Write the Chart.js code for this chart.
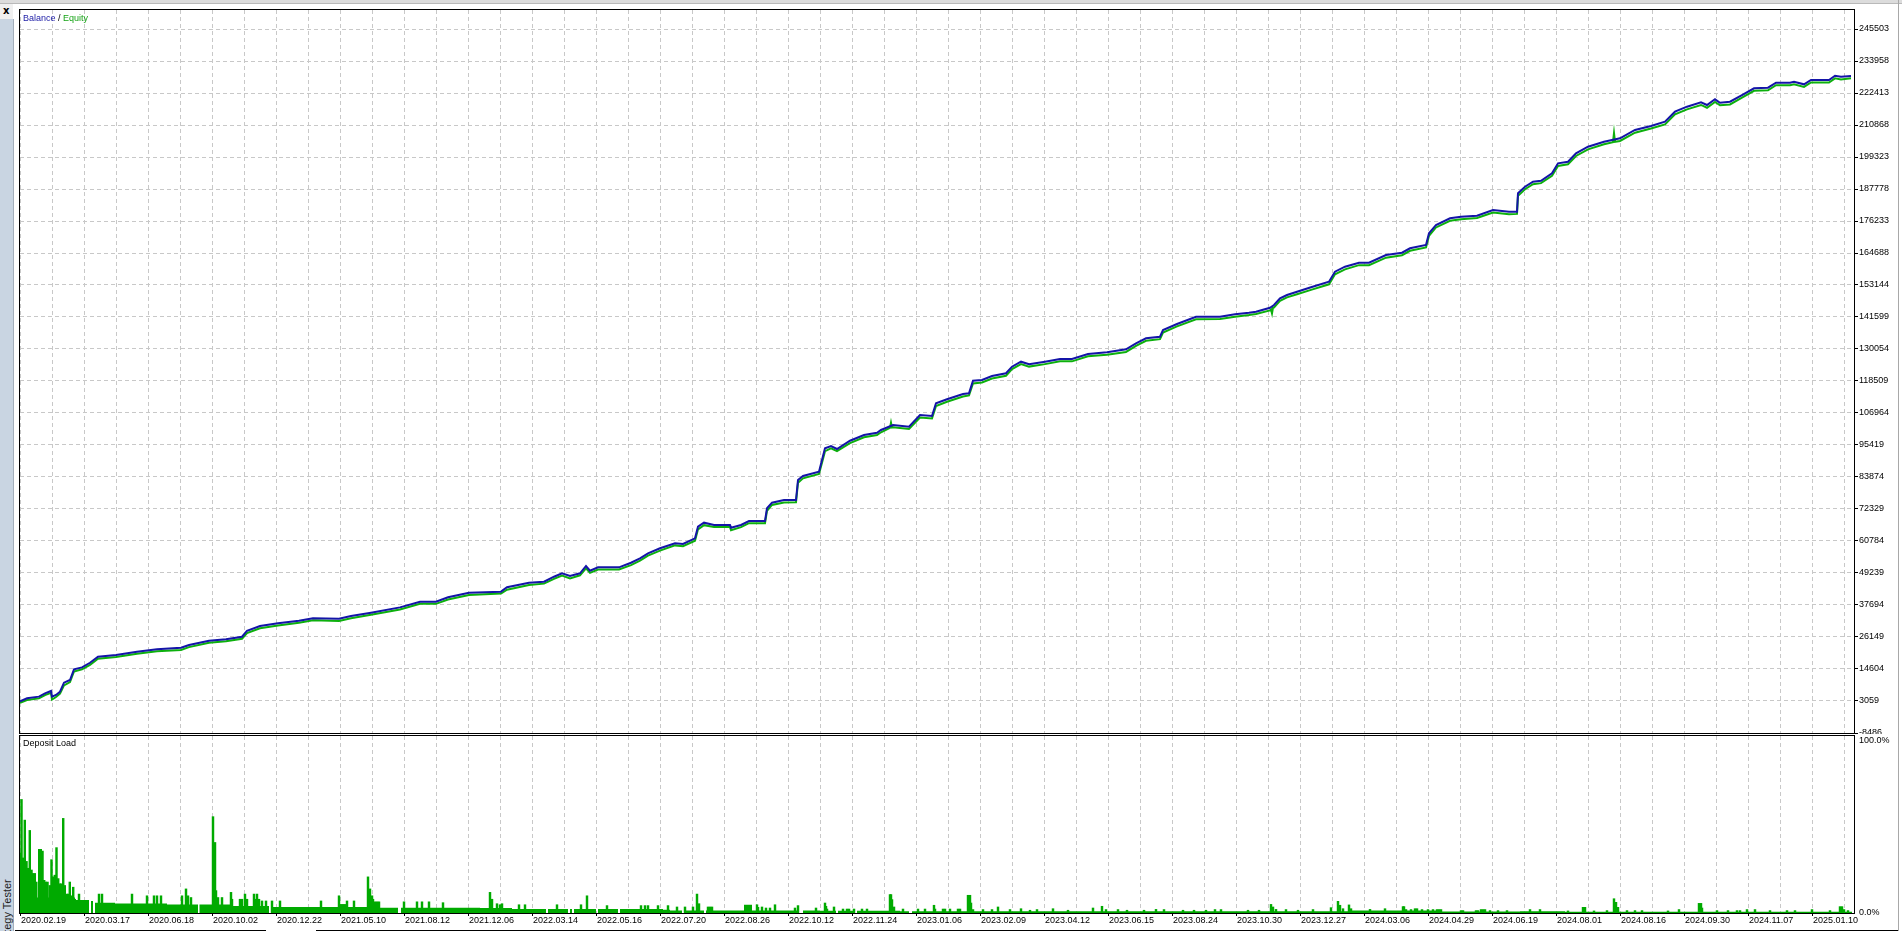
<!doctype html>
<html lang="en">
<head>
<meta charset="utf-8" />
<title>Balance / Equity</title>
<script src="https://cdn.jsdelivr.net/npm/chart.js"></script>
<style>
  html, body { margin: 0; padding: 0; background: #fff; overflow: hidden; }
  body { width: 1902px; height: 931px; position: relative; font-family: 'Liberation Sans', Arial, sans-serif; }
  .abs { position: absolute; }
  #topbar { left: 0; top: 0; width: 1902px; height: 3px; background: #dcdcdc; border-bottom: 1px solid #b9b9b9; }
  #corner { left: 0; top: 4px; width: 13px; height: 15px; background: #f0f0f0; }
  #close { left: 3px; top: 5px; font: bold 10px 'DejaVu Sans', sans-serif; color: #000; }
  #sidebar { left: 0; top: 19px; width: 13px; height: 912px; background: #c9d5e2; border-right: 1px solid #a3aebb; overflow: hidden; }
  #sideText { left: 1px; top: 953px; transform-origin: 0 0; transform: rotate(-90deg); font: 11px 'Liberation Sans', Arial, sans-serif; color: #1e1e1e; white-space: nowrap; line-height: 12px; }
  #rightLine { left: 1898px; top: 0; width: 1px; height: 931px; background: #a8a8a8; }
  #bottomLine1 { left: 15px; top: 930px; width: 251px; height: 1px; background: #000; }
  #bottomLine2 { left: 316px; top: 930px; width: 1582px; height: 1px; background: #000; }
  #mainChart { left: 0; top: 0; }
  #loadChart { left: 0; top: 734px; }
  .caption { font-size: 9px; line-height: 10px; white-space: nowrap; color: #000; }
</style>
</head>
<body>
  <div class="abs" id="topbar"></div>
  <div class="abs" id="corner"></div>
  <div class="abs" id="close">x</div>
  <div class="abs" id="sidebar"></div>
  <div class="abs" id="sideText">Strategy Tester</div>
  <div class="abs" id="rightLine"></div>
  <canvas class="abs" id="mainChart" width="1902" height="734"></canvas>
  <canvas class="abs" id="loadChart" width="1902" height="197"></canvas>
  <div class="abs" id="bottomLine1"></div>
  <div class="abs" id="bottomLine2"></div>
  <div class="abs caption" style="left:23px; top:13px;"><span style="color:#1c1ca6">Balance</span> / <span style="color:#16a316">Equity</span></div>
  <div class="abs caption" style="left:23px; top:738px;">Deposit Load</div>
<script>
// x positions are the tester's deal index, one unit per pixel column
const xMax = 1834;
const gridStep = 32;

const dateLabels = [
  '2020.02.19', '2020.03.17', '2020.06.18', '2020.10.02', '2020.12.22', '2021.05.10',
  '2021.08.12', '2021.12.06', '2022.03.14', '2022.05.16', '2022.07.20', '2022.08.26',
  '2022.10.12', '2022.11.24', '2023.01.06', '2023.02.09', '2023.04.12', '2023.06.15',
  '2023.08.24', '2023.10.30', '2023.12.27', '2024.03.06', '2024.04.29', '2024.06.19',
  '2024.08.01', '2024.08.16', '2024.09.30', '2024.11.07', '2025.01.10',
];

const balanceTicks = [
  -8486, 3059, 14604, 26149, 37694, 49239, 60784, 72329, 83874, 95419, 106964, 118509,
  130054, 141599, 153144, 164688, 176233, 187778, 199323, 210868, 222413, 233958, 245503,
];
const balanceMin = -8486;
const balanceMax = 252358;

const balanceX = [
  0, 7, 19, 25, 31, 32, 36, 40, 44, 50,
  54, 62, 70, 78, 96, 117, 137, 161, 169, 189,
  206, 222, 227, 240, 258, 279, 293, 319, 331, 351,
  380, 400, 416, 428, 449, 481, 487, 509, 524, 534,
  542, 550, 560, 566, 570, 578, 599, 611, 620, 628,
  640, 655, 663, 675, 678, 684, 694, 710, 711, 721,
  729, 745, 747, 752, 764, 776, 778, 783, 799, 802,
  805, 811, 817, 830, 844, 857, 861, 873, 889, 900,
  912, 916, 927, 943, 949, 953, 962, 972, 986, 992,
  1001, 1009, 1025, 1040, 1052, 1068, 1087, 1106, 1116, 1126,
  1140, 1143, 1157, 1176, 1200, 1215, 1229, 1236, 1250, 1254,
  1260, 1267, 1277, 1291, 1309, 1315, 1325, 1339, 1349, 1366,
  1382, 1390, 1406, 1409, 1416, 1430, 1441, 1457, 1473, 1489,
  1497, 1498, 1505, 1513, 1521, 1532, 1538, 1548, 1556, 1568,
  1584, 1600, 1615, 1631, 1645, 1655, 1667, 1681, 1687, 1695,
  1700, 1710, 1722, 1734, 1748, 1756, 1770, 1774, 1784, 1791,
  1809, 1815, 1821, 1831,
];
const balance = [
  2900, 4040, 4630, 5830, 6670, 4630, 5230, 6430, 9670, 10640,
  14480, 15200, 16860, 19030, 19640, 20830, 21700, 22270, 23250, 24800,
  25300, 26250, 28410, 30120, 31070, 32030, 32870, 32750, 33710, 34900,
  36830, 38880, 38880, 40470, 42140, 42500, 44080, 45740, 46100, 47900,
  49130, 48160, 49130, 51770, 50070, 51290, 51290, 52950, 54540, 56340,
  58150, 59950, 59700, 61760, 65940, 67390, 66560, 66560, 65590, 66560,
  68000, 68000, 72580, 74600, 75570, 75570, 82790, 84230, 85780, 90000,
  94220, 95060, 93970, 96970, 99020, 99850, 100830, 102630, 102020, 106240,
  105880, 110460, 111900, 113820, 114070, 118620, 118870, 120310, 121290, 123670,
  125470, 124530, 125470, 126450, 126450, 128250, 128860, 129940, 132100, 133910,
  134490, 136900, 139070, 141700, 141700, 142570, 143150, 143510, 144950, 145930,
  148340, 149540, 150730, 152310, 154330, 157940, 159740, 161190, 161190, 163970,
  164800, 166390, 167580, 171800, 174800, 177200, 177780, 178140, 180200, 179590,
  179590, 186230, 188610, 190420, 190770, 193440, 197050, 197630, 200660, 203040,
  204850, 206070, 209070, 210510, 212060, 215670, 217470, 219060, 218080, 220140,
  218910, 219270, 221690, 224110, 224330, 226130, 226130, 226490, 225550, 227100,
  227100, 228650, 228290, 228540,
];

const equityX = [
  0, 7, 19, 25, 31, 32, 36, 40, 44, 50,
  54, 62, 70, 78, 96, 117, 137, 161, 169, 189,
  206, 222, 227, 240, 258, 279, 293, 319, 331, 351,
  380, 400, 416, 428, 449, 481, 487, 509, 524, 534,
  542, 550, 560, 566, 570, 578, 599, 611, 620, 628,
  640, 655, 663, 675, 678, 684, 694, 710, 711, 721,
  729, 745, 747, 752, 764, 776, 778, 783, 799, 802,
  805, 811, 817, 830, 844, 857, 861, 870, 871, 872, 873, 889, 900,
  912, 916, 927, 943, 949, 953, 962, 972, 986, 992,
  1001, 1009, 1025, 1040, 1052, 1068, 1087, 1106, 1116, 1126,
  1140, 1143, 1157, 1176, 1200, 1215, 1229, 1236, 1250, 1251, 1252, 1253, 1254,
  1260, 1267, 1277, 1291, 1309, 1315, 1325, 1339, 1349, 1366,
  1382, 1390, 1406, 1409, 1416, 1430, 1441, 1457, 1473, 1489,
  1497, 1498, 1505, 1513, 1521, 1532, 1538, 1548, 1556, 1568,
  1584, 1593, 1594, 1595, 1600, 1615, 1631, 1645, 1655, 1667, 1681, 1687, 1695,
  1700, 1710, 1722, 1734, 1748, 1756, 1770, 1774, 1784, 1791,
  1809, 1815, 1821, 1831,
];
const equity = [
  2400, 3400, 4000, 5200, 6000, 3600, 4500, 5700, 8700, 9900,
  13700, 14500, 16100, 18300, 18900, 20100, 21000, 21500, 22500, 24100,
  24600, 25500, 27600, 29300, 30300, 31300, 32200, 31900, 32900, 34200,
  36100, 38100, 38100, 39700, 41300, 41800, 43200, 44900, 45400, 47100,
  48300, 47300, 48400, 50900, 49300, 50500, 50500, 52100, 53700, 55500,
  57300, 59200, 58900, 60900, 65000, 66500, 65800, 65800, 64700, 65800,
  67200, 67200, 71700, 73800, 74700, 74800, 81800, 83400, 85000, 89000,
  93200, 94200, 93200, 96100, 98200, 99000, 100000, 101600, 103500, 101700, 101800, 101200, 105300,
  105000, 109500, 111000, 112900, 113300, 117600, 118000, 119400, 120400, 122800,
  124600, 123700, 124600, 125600, 125600, 127400, 128000, 129000, 131200, 133000,
  133600, 136000, 138200, 140800, 140900, 141700, 142300, 142700, 144000, 144300, 142900, 145000, 145000,
  147400, 148700, 149800, 151400, 153400, 157000, 158800, 160300, 160300, 163000,
  163900, 165500, 166700, 170900, 173900, 176300, 176900, 177300, 179300, 178700,
  178800, 185300, 187700, 189500, 189900, 192500, 196100, 196700, 199700, 202100,
  203900, 204700, 208000, 204800, 205100, 208100, 209600, 211100, 214700, 216500, 218100, 217100, 219200,
  218000, 218300, 220700, 223200, 223400, 225200, 225200, 225600, 224600, 226200,
  226200, 227700, 227300, 227700,
];

// deposit load (%): a stepped floor level plus the single-deal spikes on top
const loadBaseX = [
  0, 55, 69, 71, 73, 75, 95, 147, 178, 179.5,
  213, 249, 251, 360, 378, 381, 460, 492, 526, 528,
  548, 550, 552, 554, 576, 578, 598, 600, 643, 650,
  662, 664, 684, 686, 724, 732, 779, 783, 800, 816,
  818, 835, 837, 880, 889, 892, 1330, 1420, 1500, 1545,
  1832,
];
const loadBaseY = [
  9, 7.5, 0, 7, 0, 6, 5.5, 5, 0, 5,
  4, 0, 3.5, 3, 0, 3, 2.9, 2.3, 0, 2.3,
  0, 2.3, 0, 2.3, 0, 2.3, 0, 2.3, 1.9, 1.5,
  0, 1.5, 0, 1.5, 4.8, 1.5, 0, 1.5, 1.3, 0,
  1.3, 0, 1.3, 1.0, 0, 1.0, 1.4, 0.8, 1.0, 0.7,
  0.7,
];
const spikeX = [
  0, 1.5, 3.2, 4.8, 6.5, 8.2, 9.8, 11.5, 13.2, 14.8, 16.3, 19.2, 20.8, 22.5, 24.2, 25.8,
  27.5, 29.8, 31.5, 33.2, 34.8, 36.5, 38.2, 39.8, 41.5, 43.2, 44.8, 46.5, 48.2, 49.8, 51.5,
  53.2, 54.8,
  59, 62, 79, 82, 112, 127, 134, 137, 141, 162, 166, 168, 171, 193, 195, 196, 198, 202,
  211, 212, 220, 222, 225, 227, 234, 236, 237, 239, 242, 246, 252, 260, 301, 319, 321,
  323, 325, 327, 334, 348, 350, 352, 353, 355, 357, 359, 384, 397, 402, 409, 423,
  470, 472, 477, 480, 482, 499, 505, 537, 561, 567, 587, 621, 625, 628, 638, 648, 657,
  665, 673, 677, 679, 688, 690, 692, 737, 738, 742, 746, 750, 755, 775, 778, 796, 805,
  806, 807, 814, 823, 827, 829, 834, 842, 847, 870, 871, 872, 874, 883, 898, 905, 914,
  915, 923, 925, 930, 938, 940, 948, 950, 951, 953, 963, 972, 978, 990, 1001, 1010,
  1017, 1033, 1048, 1073, 1082, 1086, 1098, 1107, 1124, 1136, 1144, 1163, 1174, 1186,
  1195, 1201, 1228, 1239, 1251, 1253, 1256, 1266, 1278, 1293, 1311, 1318, 1320, 1323,
  1329, 1331, 1350, 1365, 1383, 1384, 1386, 1391, 1395, 1397, 1402, 1408, 1413, 1417,
  1419, 1421, 1441, 1443, 1456, 1458, 1461, 1463, 1465, 1470, 1478, 1487, 1510, 1520,
  1548, 1563, 1565, 1574, 1587, 1594, 1596, 1598, 1607, 1615, 1622, 1648, 1659, 1679,
  1681, 1682, 1697, 1708, 1717, 1720, 1727, 1735, 1750, 1767, 1775, 1792, 1810, 1820,
  1822, 1824, 1828,
];
const spikeY = [
  35, 66, 32, 54, 30, 26, 48, 25, 23, 23, 18, 37, 37, 36, 19, 18,
  18, 16, 31, 21, 22, 38, 20, 17, 17, 55, 16, 11, 11, 18, 10,
  15, 8,
  11, 7, 11, 11, 11, 10, 10, 10, 10, 10, 14, 10, 9, 56, 41, 13, 9, 9,
  12, 8, 8, 8, 11, 8, 11, 8, 11, 8, 7, 7, 7, 7, 7, 10, 5,
  5, 5, 7, 7, 21, 14, 10, 8, 6.5, 6.5, 6.5, 6.5, 6.5, 6.5, 6.5, 6,
  12, 8, 5.4, 4.8, 5.4, 4.8, 4.8, 4.8, 4.8, 10, 4.3, 4.3, 4.3, 4.3, 4.3, 4.3, 3.5,
  3.5, 3.5, 11, 5.4, 3.5, 3.5, 3.5, 4.8, 3.3, 3.5, 2.9, 2.9, 4.8, 2.9, 4.3, 2.9, 5.8,
  3.9, 2.3, 3.5, 2.3, 2.3, 2.3, 2.3, 2.3, 2.3, 10.7, 10.7, 7.8, 3.5, 2.3, 2.3, 2.3, 4.5,
  2.3, 2.3, 2.3, 2.3, 2.3, 2.3, 10.3, 10.3, 5.8, 2, 2, 2, 3.5, 2, 2.5, 1.6,
  2, 2.5, 1.6, 2.9, 3.9, 2, 2, 1.6, 1.6, 2.1, 2, 1.6, 1.6, 1.6,
  2, 2, 1.6, 1.6, 5, 3.5, 2.1, 2, 1.6, 2, 3.1, 6.8, 4.5, 2.5,
  4.7, 2.5, 2.1, 2.5, 3.7, 3.7, 2, 2, 2.5, 2.5, 2, 2, 2, 2,
  2, 2, 1.4, 1.4, 1.4, 1.4, 2, 2, 2, 1.4, 1.4, 1.4, 2, 2,
  1.2, 3.3, 3.3, 1.2, 1.4, 8.3, 6.2, 3.3, 1.4, 1.4, 1.4, 1.2, 2, 5.6,
  5.6, 2.9, 1.4, 1.4, 1.4, 1.4, 2, 2, 1.4, 1.4, 1.4, 2, 1.4, 3.7,
  3.7, 2, 1.4,
];
const loadMax = 102.9;

const gridColor = '#c8c8c8';
const gridDash = [4, 3];
const axisFont = { family: "'Liberation Sans', Arial, sans-serif", size: 9 };
const gridX = Array.from({ length: Math.floor(xMax / gridStep) + 1 }, (_, i) => i * gridStep);

const frame = {
  id: 'frame',
  afterDraw(chart) {
    const { ctx, chartArea: a } = chart;
    ctx.save();
    ctx.strokeStyle = '#000';
    ctx.lineWidth = 1;
    ctx.strokeRect(a.left - 0.5, a.top - 0.5, a.right - a.left + 1, a.bottom - a.top + 1);
    ctx.restore();
  },
};

const pairs = (xs, ys) => xs.map((x, i) => ({ x, y: ys[i] }));

new Chart(document.getElementById('mainChart'), {
  type: 'line',
  data: {
    datasets: [
      {
        label: 'Balance',
        data: pairs(balanceX, balance),
        borderColor: '#1414a8',
        borderWidth: 2,
        pointRadius: 0,
        order: 0,
      },
      {
        label: 'Equity',
        data: pairs(equityX, equity),
        borderColor: '#0db00d',
        borderWidth: 2,
        pointRadius: 0,
        order: 1,
      },
    ],
  },
  options: {
    responsive: false,
    animation: false,
    devicePixelRatio: 1,
    layout: { padding: { left: 20, top: 10, right: 0, bottom: 1 } },
    plugins: { legend: { display: false }, tooltip: { enabled: false } },
    scales: {
      x: {
        type: 'linear', min: 0, max: xMax, offset: false,
        afterBuildTicks: (axis) => { axis.ticks = gridX.map((value) => ({ value })); },
        afterFit: (axis) => { axis.height = 0; axis.paddingLeft = 0; axis.paddingRight = 0; },
        ticks: { display: false },
        grid: { color: gridColor, drawTicks: false },
        border: { display: false, dash: gridDash },
      },
      y: {
        type: 'linear', position: 'right', min: balanceMin, max: balanceMax,
        afterBuildTicks: (axis) => { axis.ticks = balanceTicks.map((value) => ({ value })); },
        afterFit: (axis) => { axis.width = 48; axis.paddingTop = 0; axis.paddingBottom = 0; },
        ticks: { color: '#000', font: axisFont, padding: 1, autoSkip: false, callback: (value) => String(value) },
        grid: { color: gridColor, tickColor: '#000', tickLength: 4 },
        border: { display: false, dash: gridDash },
      },
    },
  },
  plugins: [frame],
});

new Chart(document.getElementById('loadChart'), {
  type: 'bar',
  data: {
    datasets: [
      {
        type: 'bar',
        label: 'Deposit load',
        data: pairs(spikeX, spikeY),
        backgroundColor: '#00aa00',
        barThickness: 1.8,
        grouped: false,
        order: 0,
      },
      {
        type: 'line',
        label: 'Deposit load floor',
        data: pairs(loadBaseX, loadBaseY),
        stepped: true,
        fill: 'origin',
        backgroundColor: '#00aa00',
        borderColor: 'rgba(0,0,0,0)',
        borderWidth: 0,
        pointRadius: 0,
        order: 1,
      },
    ],
  },
  options: {
    responsive: false,
    animation: false,
    devicePixelRatio: 1,
    layout: { padding: { left: 20, top: 2, right: 0, bottom: 0 } },
    plugins: { legend: { display: false }, tooltip: { enabled: false } },
    scales: {
      x: {
        type: 'linear', min: 0, max: xMax, offset: false,
        afterBuildTicks: (axis) => { axis.ticks = gridX.map((value) => ({ value })); },
        afterFit: (axis) => { axis.height = 18; axis.paddingLeft = 0; axis.paddingRight = 0; },
        ticks: {
          color: '#000', font: axisFont, align: 'start', autoSkip: false,
          maxRotation: 0, minRotation: 0, padding: -1, labelOffset: 1,
          callback: (value) => (value % 64 === 0 ? dateLabels[value / 64] : ''),
        },
        grid: {
          color: gridColor, offset: false, tickLength: 3,
          tickColor: (ctx) => (ctx.tick && ctx.tick.value % 64 === 0 ? '#000' : 'rgba(0,0,0,0)'),
        },
        border: { display: false, dash: gridDash },
      },
      y: {
        type: 'linear', position: 'right', min: 0, max: loadMax,
        afterBuildTicks: (axis) => { axis.ticks = [{ value: 0 }, { value: 100 }]; },
        afterFit: (axis) => { axis.width = 48; axis.paddingTop = 0; axis.paddingBottom = 0; },
        ticks: { color: '#000', font: axisFont, padding: 5, callback: (value) => value.toFixed(1) + '%' },
        grid: { drawOnChartArea: false, drawTicks: false },
        border: { display: false },
      },
    },
  },
  plugins: [frame],
});
</script>
</body>
</html>
